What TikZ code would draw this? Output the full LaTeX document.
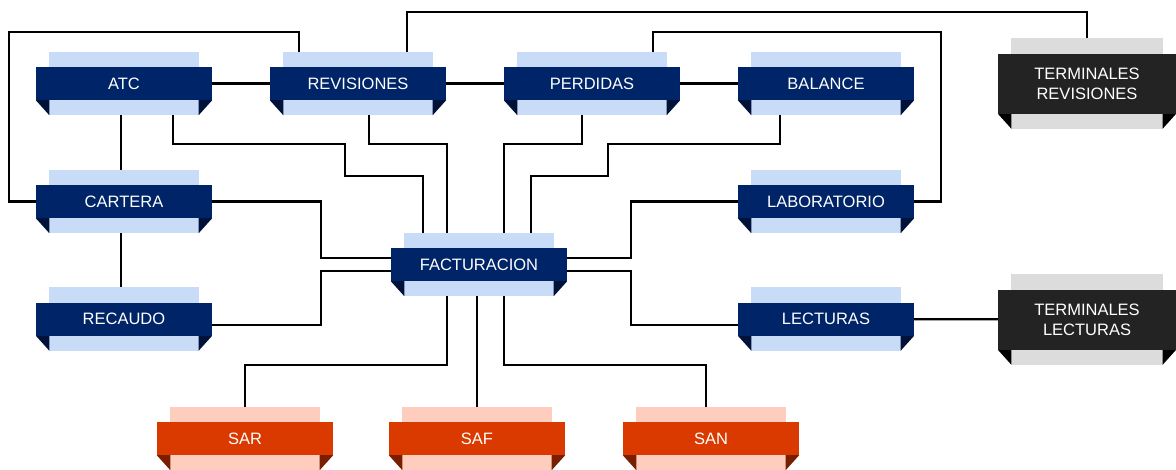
\documentclass[tikz,border=0pt]{standalone}
\usepackage{fontspec}
\setsansfont{Liberation Sans}
\definecolor{bandnavy}{HTML}{002468}
\definecolor{backnavy}{HTML}{C8DCF8}
\definecolor{tipnavy}{HTML}{00123A}
\definecolor{bandgrey}{HTML}{232323}
\definecolor{backgrey}{HTML}{DCDCDC}
\definecolor{tipgrey}{HTML}{000000}
\definecolor{bandred}{HTML}{DA3A00}
\definecolor{backred}{HTML}{FFCDBD}
\definecolor{tipred}{HTML}{7A1E00}
\pgfdeclarelayer{lines}
\pgfdeclarelayer{background}
\pgfsetlayers{lines,background,main}

\begin{document}
\begin{tikzpicture}[x=1pt,y=-1pt,link/.style={draw=black,line width=2.2pt},main node/.style={rectangle,fill=bandnavy,text=white,minimum width=176pt,minimum height=33pt,inner sep=0pt,font=\sffamily\fontsize{16.5}{20}\selectfont},term node/.style={main node,fill=bandgrey,minimum width=178pt,minimum height=60pt,align=center},sa node/.style={main node,fill=bandred}]
                \useasboundingbox (0,0) rectangle (1176,469);

                \node[main node] (atc) at (124,83.5) {ATC};
                \node[main node] (rev) at (358,83.5) {REVISIONES};
                \node[main node] (per) at (592,83.5) {PERDIDAS};
                \node[main node] (bal) at (826,83.5) {BALANCE};
                \node[term node] (trev) at (1087,83.5) {TERMINALES\\REVISIONES};
                \node[main node] (car) at (124,201.5) {CARTERA};
                \node[main node] (lab) at (826,201.5) {LABORATORIO};
                \node[main node] (fac) at (479,264.5) {FACTURACION};
                \node[main node] (rec) at (124,319) {RECAUDO};
                \node[main node] (lec) at (826,319) {LECTURAS};
                \node[term node] (tlec) at (1087,319.5) {TERMINALES\\LECTURAS};
                \node[sa node] (sar) at (245,438.5) {SAR};
                \node[sa node] (saf) at (477,438.5) {SAF};
                \node[sa node] (san) at (711,438.5) {SAN};

                \begin{pgfonlayer}{background}
                \foreach \n/\k in {atc/navy,rev/navy,per/navy,bal/navy,car/navy,lab/navy,fac/navy,rec/navy,lec/navy,trev/grey,tlec/grey,sar/red,saf/red,san/red} {
                    \fill[back\k] ([xshift=13.5pt,yshift=15pt]\n.north west) rectangle ([xshift=-13.5pt,yshift=-15pt]\n.south east);
                    \fill[tip\k] (\n.south west) -- ([xshift=13.5pt]\n.south west) -- ([xshift=13.5pt,yshift=-15pt]\n.south west) -- cycle;
                    \fill[tip\k] (\n.south east) -- ([xshift=-13.5pt]\n.south east) -- ([xshift=-13.5pt,yshift=-15pt]\n.south east) -- cycle;
                }
                \end{pgfonlayer}

                \begin{pgfonlayer}{lines}
                \draw[link] (atc.center) -- (rev.center) -- (per.center) -- (bal.center);
                \draw[link] ([xshift=-3pt]atc.center) -- ([xshift=-3pt]rec.center);
                \draw[link] (car.center) -| (9,32) -| ([xshift=-59pt]rev.center);
                \draw[link] ([xshift=49pt]atc.center) |- (345,144) |- (423,176) -- ([xshift=-56pt]fac.center);
                \draw[link] ([xshift=11pt]rev.center) |- (447,144) -- ([xshift=-32pt]fac.center);
                \draw[link] ([xshift=-10pt]per.center) |- (504,144) -- ([xshift=25pt]fac.center);
                \draw[link] ([xshift=-46pt]bal.center) |- (608,144) |- (531,176) -- ([xshift=52pt]fac.center);
                \draw[link] ([xshift=49pt]rev.center) |- (1087,12) -- (trev.center);
                \draw[link] ([xshift=61pt]per.center) |- (941,32) |- (lab.center);
                \draw[link] (car.center) -| (321,258) -- ([yshift=6.5pt]fac.center);
                \draw[link] ([yshift=-6pt]rec.center) -| (321,271) -- ([yshift=-6.5pt]fac.center);
                \draw[link] ([yshift=6.5pt]fac.center) -| (631,201.5) -- (lab.center);
                \draw[link] ([yshift=-6.5pt]fac.center) -| (631,325) -- ([yshift=-6pt]lec.center);
                \draw[link] (lec.center) -- (tlec.center);
                \draw[link] ([xshift=-32pt]fac.center) |- (245,365) -- (sar.center);
                \draw[link] (fac.center -| saf.center) -- (saf.center);
                \draw[link] ([xshift=25pt]fac.center) |- (706,365) -- ([xshift=-5pt]san.center);
                \end{pgfonlayer}

            \end{tikzpicture}
\end{document}
